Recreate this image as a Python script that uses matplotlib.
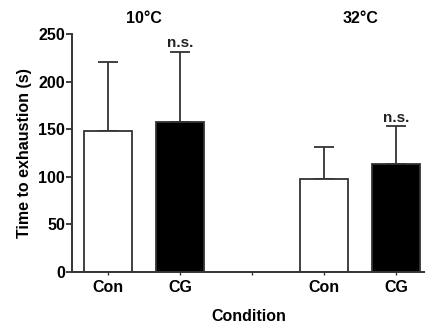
import matplotlib.pyplot as plt

plt.rcParams['font.family'] = ['Liberation Sans', 'DejaVu Sans']
plt.rcParams['font.weight'] = 'bold'

# data
labels = ["Con", "CG", "", "Con", "CG"]
positions = [0, 1, 3, 4]
means = [148, 157.5, 97.5, 114]
errors = [73, 73.5, 33.5, 39]
colors = ["white", "black", "white", "black"]
groups = ["10°C", "32°C"]
group_centers = [0.5, 3.5]
ns_bars = [1, 3]

fig = plt.figure(figsize=(4.25, 3.25), dpi=100)
ax = fig.add_axes([0.169, 0.163, 0.831, 0.732])

edge = "#333333"
ax.bar(positions, means, width=0.67, color=colors, edgecolor=edge, linewidth=1.3, zorder=2)
ax.errorbar(positions, means, yerr=[[0] * len(means), errors], fmt="none",
            ecolor=edge, elinewidth=1.3, capsize=7.5, capthick=1.3, zorder=1)

# "n.s." over the CG bars
for i in ns_bars:
    ax.text(positions[i], means[i] + errors[i] + 2, "n.s.", ha="center", va="bottom",
            fontsize=11, fontweight="bold", color="#222222")

# temperature headings
for x, g in zip(group_centers, groups):
    ax.text(x, 266, g, ha="center", va="center", fontsize=11.5, fontweight="bold",
            clip_on=False)

ax.set_xlim(-0.5, 4.4)
ax.set_ylim(0, 250)
ax.set_xticks(range(len(labels)))
ax.set_xticklabels(labels, fontsize=11.5, fontweight="bold")
ax.set_yticks([0, 50, 100, 150, 200, 250])
ax.tick_params(axis="y", labelsize=11.5, length=4, width=1.3, color=edge, pad=1)
ax.tick_params(axis="x", length=2.5, width=1.0, color=edge, pad=3)
for lbl in ax.get_yticklabels():
    lbl.set_fontweight("bold")

ax.set_ylabel("Time to exhaustion (s)", fontsize=11.5, fontweight="bold", labelpad=4)
ax.set_xlabel("Condition", fontsize=11.5, fontweight="bold", labelpad=10)

for s in ["top", "right"]:
    ax.spines[s].set_visible(False)
for s in ["left", "bottom"]:
    ax.spines[s].set_linewidth(1.4)
    ax.spines[s].set_color(edge)

fig.savefig("out.png", dpi=100)
